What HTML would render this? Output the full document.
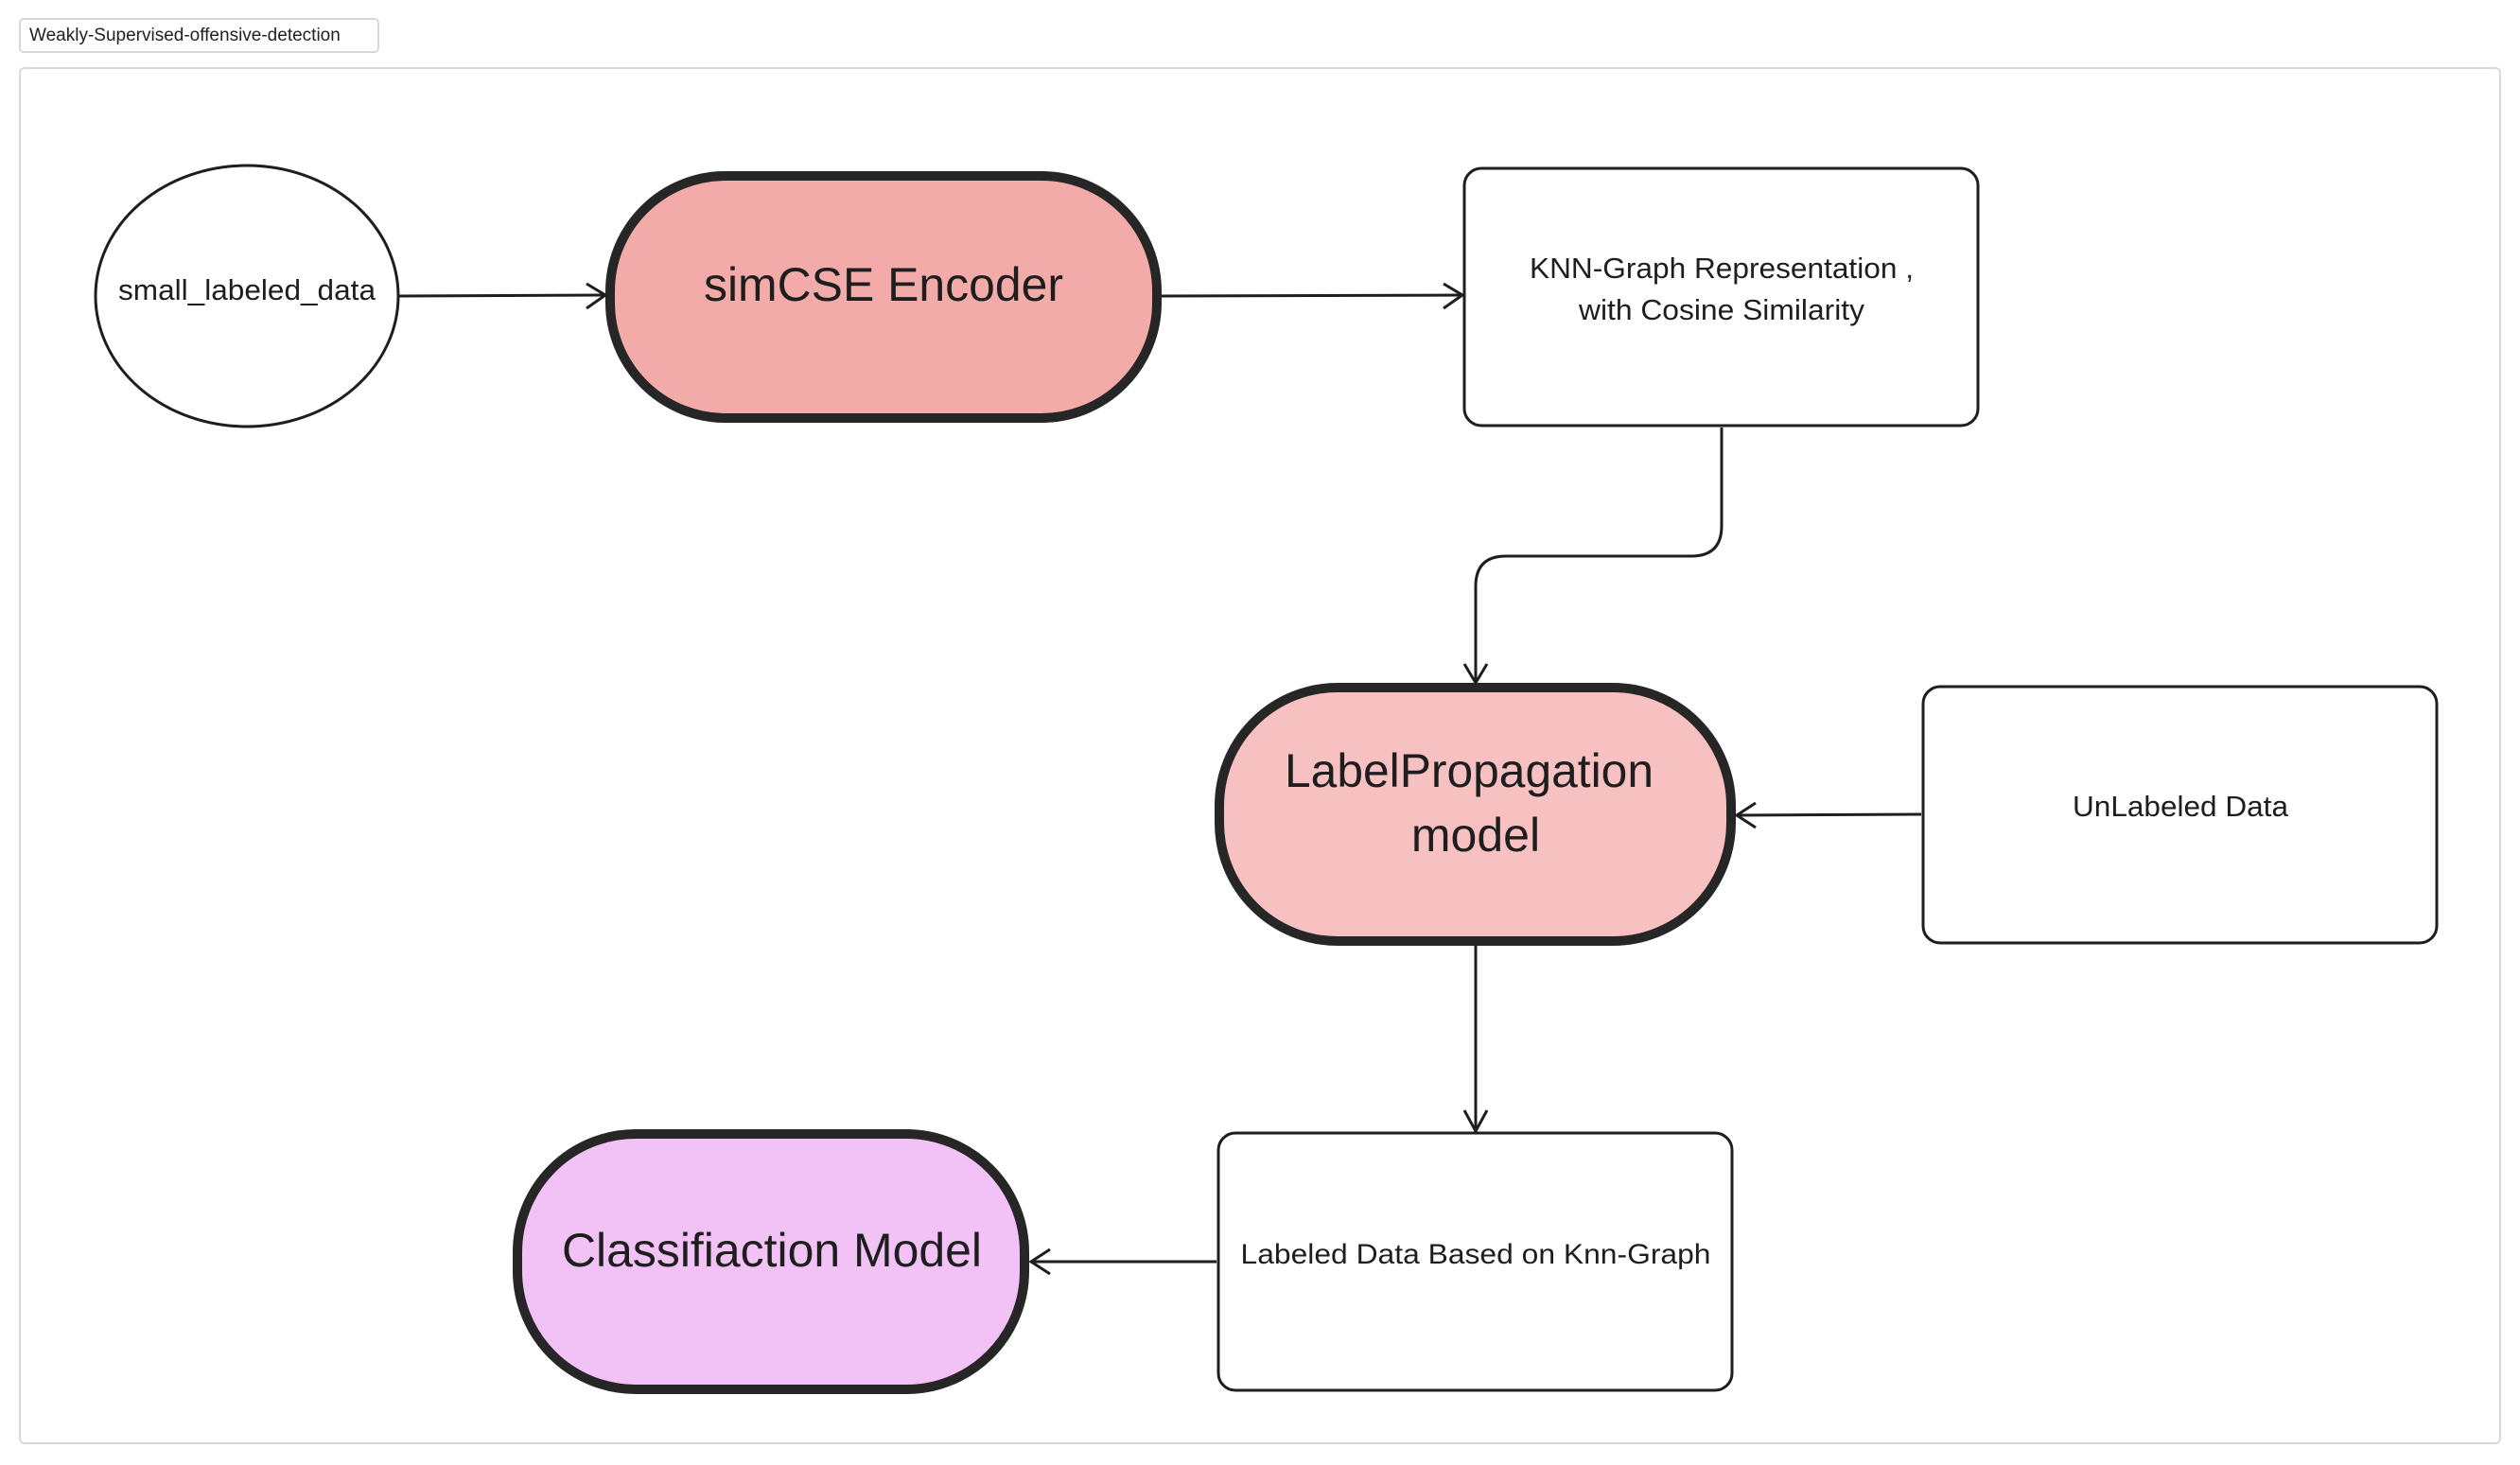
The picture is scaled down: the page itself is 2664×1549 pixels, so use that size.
<!DOCTYPE html>
<html><head><meta charset="utf-8"><style>
html,body{margin:0;padding:0;background:#fff;}
body{width:2664px;height:1549px;position:relative;overflow:hidden;font-family:"Liberation Sans",sans-serif;}
.tag{position:absolute;left:20px;top:19px;width:381px;height:37px;border:2px solid #d8d8dc;border-radius:5px;box-sizing:border-box;font-size:19px;line-height:33px;padding-left:9px;color:#222;}
.frame{position:absolute;left:20px;top:71px;width:2624px;height:1456px;border:2px solid #d8d8dc;border-radius:6px;box-sizing:border-box;}
svg{position:absolute;left:0;top:0;}
</style></head><body>
<div class="tag">Weakly-Supervised-offensive-detection</div>
<div class="frame"></div>
<svg width="2664" height="1549" font-family="Liberation Sans, sans-serif" fill="#1e1e1e">
<g stroke="#1e1e1e" fill="none" stroke-width="3">
<ellipse cx="261" cy="313" rx="160" ry="138" fill="#fff"/>
<rect x="1548" y="178" width="543" height="272" rx="18" fill="#fff"/>
<rect x="2033" y="726" width="543" height="271" rx="18" fill="#fff"/>
<rect x="1288" y="1198" width="543" height="272" rx="18" fill="#fff"/>
</g>
<g stroke="#262626" stroke-width="10">
<rect x="645" y="186" width="578" height="256" rx="122" fill="#f2aba8"/>
<rect x="1289" y="727" width="541" height="268" rx="125" fill="#f7c0c1"/>
<rect x="547" y="1199" width="536" height="270" rx="125" fill="#f2c1f5"/>
</g>
<g stroke="#1e1e1e" stroke-width="3" fill="none">
<path d="M422 313 L640 312"/><path d="M620 300 L640 312 L620 326"/>
<path d="M1228 313 L1546 312"/><path d="M1526 300 L1546 312 L1526 326"/>
<path d="M1820 452 L1820 556 Q1820 588 1788 588 L1592 588 Q1560 588 1560 620 L1560 722"/><path d="M1548 702 L1560 722 L1572 702"/>
<path d="M1560 1000 L1560 1196"/><path d="M1548 1174 L1560 1196 L1572 1174"/>
<path d="M2031 861 L1836 862"/><path d="M1856 849 L1836 862 L1856 875"/>
<path d="M1286 1334 L1090 1334"/><path d="M1110 1321 L1090 1334 L1110 1347"/>
</g>
<g text-anchor="middle">
<text x="261" y="317" font-size="31" textLength="272" lengthAdjust="spacingAndGlyphs">small_labeled_data</text>
<text x="934" y="318" font-size="50" textLength="380" lengthAdjust="spacingAndGlyphs">simCSE Encoder</text>
<text x="1820" y="294" font-size="31" textLength="406" lengthAdjust="spacingAndGlyphs">KNN-Graph Representation ,</text>
<text x="1820" y="338" font-size="31" textLength="302" lengthAdjust="spacingAndGlyphs">with Cosine Similarity</text>
<text x="1553" y="832" font-size="50" textLength="390" lengthAdjust="spacingAndGlyphs">LabelPropagation</text>
<text x="1560" y="900" font-size="50">model</text>
<text x="2305" y="863" font-size="31" textLength="228" lengthAdjust="spacingAndGlyphs">UnLabeled Data</text>
<text x="1560" y="1336" font-size="30" textLength="497" lengthAdjust="spacingAndGlyphs">Labeled Data Based on Knn-Graph</text>
<text x="816" y="1339" font-size="50" textLength="444" lengthAdjust="spacingAndGlyphs">Classifiaction Model</text>
</g>
</svg>
</body></html>
